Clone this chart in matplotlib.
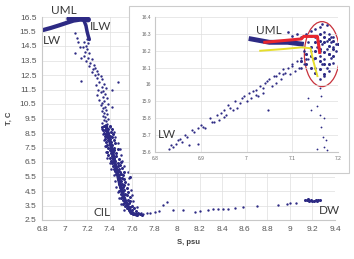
import numpy as np
import matplotlib.pyplot as plt
from matplotlib.patches import Rectangle, Ellipse

plt.rcParams['font.family'] = ['Liberation Sans', 'DejaVu Sans']

# colours
dot = '#2d2a84'
grid_c = '#dedede'
txt_c = '#404040'

# ---- main T-S diagram data ----
x_ticks = [6.8, 7.0, 7.2, 7.4, 7.6, 7.8, 8.0, 8.2, 8.4, 8.6, 8.8, 9.0, 9.2, 9.4]
x_labels = ['6.8', '7', '7.2', '7.4', '7.6', '7.8', '8', '8.2', '8.4', '8.6', '8.8', '9', '9.2', '9.4']
y_ticks = [2.5, 3.5, 4.5, 5.5, 6.5, 7.5, 8.5, 9.5, 10.5, 11.5, 12.5, 13.5, 14.5, 15.5, 16.5]

# LW -> UML streak (dense, drawn as a thick line)
streak_S = [6.81, 6.88, 6.95, 7.02, 7.08, 7.14, 7.19]
streak_T = [15.6, 15.75, 15.92, 16.1, 16.25, 16.32, 16.3]
uml_S = [7.04, 7.10, 7.16, 7.21]
uml_T = [16.38, 16.42, 16.4, 16.32]
ilw_S = [7.17, 7.19, 7.2, 7.21, 7.22]
ilw_T = [16.3, 15.9, 15.5, 15.2, 14.95]

# upper scattered part of the profile
upper_S = [7.09, 7.11, 7.12, 7.14, 7.09, 7.15, 7.20, 7.17, 7.21, 7.19, 7.16, 7.20,
           7.18, 7.22, 7.17, 7.21, 7.24, 7.19, 7.23, 7.26, 7.22, 7.27, 7.25, 7.29,
           7.24, 7.30, 7.27, 7.32, 7.29, 7.33, 7.15, 7.47, 7.31, 7.35, 7.28, 7.33,
           7.37, 7.30, 7.34, 7.42, 7.32, 7.36, 7.29, 7.34, 7.38, 7.31, 7.35, 7.33,
           7.39, 7.32, 7.36, 7.42, 7.34, 7.37, 7.33, 7.35, 7.38, 7.34, 7.36, 7.39,
           7.35, 7.37, 7.33, 7.38, 7.36, 7.40]
upper_T = [15.4, 15.05, 14.8, 14.4, 14.0, 13.7, 15.0, 14.8, 14.7, 14.5, 14.4, 14.3,
           14.1, 14.0, 13.8, 13.7, 13.6, 13.5, 13.3, 13.2, 13.1, 13.0, 12.9, 12.8,
           12.7, 12.6, 12.5, 12.4, 12.3, 12.2, 12.1, 12.0, 12.0, 11.9, 11.8, 11.7,
           11.6, 11.5, 11.4, 11.5, 11.3, 11.2, 11.1, 11.0, 10.9, 10.8, 10.7, 10.6,
           10.5, 10.4, 10.3, 10.3, 10.2, 10.1, 10.0, 9.9, 9.8, 9.7, 9.6, 9.5,
           9.4, 9.3, 9.2, 9.1, 9.0, 8.9]

# dense lower part (CIL)
lower_T = [9.0, 9.0, 8.9, 8.9, 8.8, 8.8, 8.7, 8.7, 8.6, 8.6, 8.5, 8.5, 8.4, 8.4,
           8.3, 8.3, 8.2, 8.2, 8.1, 8.1, 8.0, 8.0, 7.9, 7.9, 7.8, 7.8, 7.7, 7.7,
           7.6, 7.6, 7.5, 7.5, 7.4, 7.4, 7.3, 7.3, 7.2, 7.2, 7.1, 7.1, 7.0, 7.0,
           6.9, 6.9, 6.8, 6.8, 6.7, 6.7, 6.6, 6.6, 6.5, 6.5, 6.4, 6.4, 6.3, 6.3,
           6.2, 6.2, 6.1, 6.1, 6.0, 6.0, 5.9, 5.9, 5.8, 5.8, 5.7, 5.7, 5.6, 5.6,
           5.5, 5.5, 5.4, 5.4, 5.3, 5.3, 5.2, 5.2, 5.1, 5.1, 5.0, 5.0, 4.9, 4.9,
           4.8, 4.8, 4.7, 4.7, 4.6, 4.6, 4.5, 4.5, 4.4, 4.4, 4.3, 4.3, 4.2, 4.2,
           4.1, 4.1, 4.0, 4.0, 3.9, 3.9, 3.8, 3.8, 3.7, 3.7, 3.6, 3.6, 3.5, 3.5,
           3.4, 3.4, 3.3, 3.3, 3.2, 3.2, 3.1, 3.1, 3.0, 3.0, 2.9, 2.9, 2.9, 2.85, 2.85]
lower_S = [7.35, 7.40, 7.37, 7.33, 7.39, 7.42, 7.36, 7.34, 7.38, 7.41, 7.35, 7.39, 7.37, 7.43,
           7.40, 7.36, 7.38, 7.42, 7.36, 7.40, 7.39, 7.44, 7.37, 7.41, 7.40, 7.45, 7.38, 7.42,
           7.41, 7.37, 7.39, 7.44, 7.42, 7.47, 7.40, 7.44, 7.38, 7.43, 7.41, 7.46, 7.43, 7.39,
           7.42, 7.46, 7.40, 7.44, 7.43, 7.48, 7.41, 7.45, 7.44, 7.50, 7.42, 7.47, 7.45, 7.49,
           7.43, 7.47, 7.46, 7.51, 7.44, 7.48, 7.47, 7.45, 7.49, 7.53, 7.46, 7.50, 7.48, 7.52,
           7.47, 7.58, 7.49, 7.51, 7.47, 7.53, 7.50, 7.48, 7.49, 7.54, 7.48, 7.51, 7.50, 7.53,
           7.49, 7.52, 7.51, 7.55, 7.50, 7.53, 7.48, 7.52, 7.51, 7.56, 7.50, 7.54, 7.52, 7.55,
           7.51, 7.58, 7.53, 7.50, 7.52, 7.56, 7.54, 7.58, 7.53, 7.57, 7.55, 7.52, 7.54, 7.60,
           7.56, 7.58, 7.55, 7.62, 7.57, 7.60, 7.58, 7.63, 7.59, 7.65, 7.61, 7.67, 7.63, 7.64, 7.69]
# extra, wider points around the core
wide_T = [8.8, 8.6, 8.4, 8.2, 8.0, 7.8, 7.6, 7.4, 7.2, 7.0, 6.8, 6.6, 6.4, 6.2, 6.0,
          5.8, 5.6, 5.4, 5.2, 5.0, 4.8, 4.6, 4.4, 4.2, 4.0, 3.8, 3.6, 3.4, 3.2, 3.0]
wide_S = [7.33, 7.44, 7.34, 7.45, 7.35, 7.47, 7.36, 7.49, 7.37, 7.50, 7.38, 7.51, 7.40, 7.53, 7.41,
          7.56, 7.44, 7.57, 7.45, 7.56, 7.46, 7.59, 7.47, 7.60, 7.48, 7.61, 7.50, 7.64, 7.53, 7.68]
core_S = [7.37, 7.40, 7.43, 7.46, 7.49, 7.51, 7.53, 7.56, 7.59, 7.64]
core_T = [9.0, 8.0, 7.0, 6.0, 5.0, 4.5, 4.0, 3.5, 3.0, 2.85]

# tail towards deep water
tail_S = [7.70, 7.73, 7.76, 7.80, 7.84, 7.87, 7.91, 7.96, 8.05, 8.16, 8.20, 8.27,
          8.32, 8.36, 8.41, 8.45, 8.51, 8.58, 8.71, 8.89, 8.97, 9.00, 9.05]
tail_T = [2.9, 3.0, 2.95, 3.05, 3.1, 3.53, 3.74, 3.19, 3.19, 3.07, 3.12, 3.19,
          3.24, 3.24, 3.26, 3.28, 3.33, 3.38, 3.47, 3.51, 3.6, 3.65, 3.69]
dw_S = [9.13, 9.15, 9.17, 9.19, 9.21, 9.23, 9.25, 9.27, 9.16, 9.20, 9.24]
dw_T = [3.9, 3.85, 3.8, 3.86, 3.83, 3.88, 3.86, 3.9, 3.92, 3.78, 3.8]

# ---- inset (zoom on UML / LW) ----
in_x_ticks = [6.8, 6.9, 7.0, 7.1, 7.2]
in_x_labels = ['6.8', '6.9', '7', '7.1', '7.2']
in_y_ticks = [15.6, 15.7, 15.8, 15.9, 16.0, 16.1, 16.2, 16.3, 16.4]
in_y_labels = ['15.6', '15.7', '15.8', '15.9', '16', '16.1', '16.2', '16.3', '16.4']

diag_S = [6.83, 6.835, 6.84, 6.85, 6.86, 6.865, 6.875, 6.88, 6.885, 6.894, 6.90, 6.91,
          6.92, 6.93, 6.935, 6.94, 6.95, 6.955, 6.96, 6.97, 6.975, 6.98, 6.99, 7.00,
          7.005, 7.01, 7.02, 7.025, 7.03, 7.035, 7.04, 7.047, 7.05, 7.055, 7.06, 7.065,
          7.07, 7.075, 7.08, 7.09, 7.095, 7.10, 7.105, 7.11, 7.115, 7.12, 7.125, 7.13, 7.135, 7.14]
diag_T = [15.62, 15.64, 15.63, 15.67, 15.66, 15.70, 15.64, 15.73, 15.72, 15.65, 15.76, 15.74,
          15.80, 15.78, 15.82, 15.79, 15.85, 15.82, 15.88, 15.85, 15.90, 15.86, 15.92, 15.90,
          15.95, 15.92, 15.97, 15.93, 15.99, 15.95, 16.01, 15.85, 16.03, 15.99, 16.05, 16.01,
          16.07, 16.03, 16.09, 16.10, 16.06, 16.12, 16.08, 16.14, 16.10, 16.16, 16.12, 16.18, 16.15, 16.20]
diag2_S = [6.845, 6.855, 6.87, 6.895, 6.905, 6.925, 6.945, 6.965, 6.985, 6.995,
           7.015, 7.035, 7.045, 7.065, 7.085, 7.10, 7.12, 6.95, 7.02, 7.08]
diag2_T = [15.65, 15.68, 15.69, 15.74, 15.75, 15.78, 15.83, 15.86, 15.89, 15.93,
           15.96, 15.98, 16.02, 16.05, 16.07, 16.11, 16.14, 15.81, 15.94, 16.06]
in_uml_S = [7.01, 7.05, 7.09, 7.12]
in_uml_T = [16.27, 16.25, 16.25, 16.24]
blob_S = [7.13, 7.14, 7.15, 7.16, 7.17, 7.18, 7.19, 7.185, 7.19, 7.195, 7.18, 7.175,
          7.17, 7.165, 7.175, 7.18, 7.17, 7.16, 7.15, 7.145, 7.16, 7.165, 7.175, 7.185,
          7.19, 7.125, 7.13, 7.12, 7.135, 7.12, 7.11, 7.10, 7.09, 7.195, 7.185, 7.175,
          7.165, 7.15, 7.155, 7.16]
blob_T = [16.30, 16.32, 16.33, 16.34, 16.31, 16.30, 16.28, 16.25, 16.22, 16.20, 16.18, 16.21,
          16.15, 16.12, 16.10, 16.08, 16.05, 16.03, 16.10, 16.15, 16.20, 16.24, 16.26, 16.16,
          16.13, 16.20, 16.15, 16.10, 16.25, 16.28, 16.30, 16.29, 16.31, 16.24, 16.28, 16.35,
          16.36, 16.28, 16.22, 16.17]
blob2_S = [7.14, 7.15, 7.16, 7.17, 7.18, 7.19, 7.20, 7.15, 7.16, 7.17, 7.18, 7.19, 7.14, 7.15, 7.16,
           7.17, 7.18, 7.13, 7.14, 7.15, 7.16, 7.17, 7.12, 7.13, 7.14, 7.15, 7.16, 7.17, 7.18, 7.19]
blob2_T = [16.29, 16.29, 16.30, 16.28, 16.27, 16.26, 16.24, 16.25, 16.26, 16.25, 16.23, 16.21, 16.22, 16.20, 16.21,
           16.19, 16.18, 16.18, 16.17, 16.16, 16.14, 16.12, 16.14, 16.12, 16.10, 16.07, 16.09, 16.06, 16.12, 16.17]
vert_S = [7.16, 7.163, 7.155, 7.16, 7.17, 7.163, 7.167, 7.174, 7.17, 7.155, 7.135, 7.14, 7.175]
vert_T = [15.98, 15.93, 15.87, 15.82, 15.80, 15.75, 15.69, 15.67, 15.63, 15.62, 15.92, 15.85, 15.61]
red_S = [7.04, 7.08, 7.12, 7.125, 7.155, 7.16]
red_T = [16.25, 16.26, 16.27, 16.285, 16.285, 16.19]
yel_S = [7.03, 7.08, 7.12, 7.14, 7.145, 7.155]
yel_T = [16.20, 16.21, 16.22, 16.215, 16.15, 16.05]

fig = plt.figure(figsize=(3.54, 2.59), dpi=100)
ax = fig.add_axes([42/354, 1 - 220/259, 293/354, 203/259])

ax.plot(streak_S, streak_T, color=dot, lw=3, solid_capstyle='round')
ax.plot(uml_S, uml_T, color=dot, lw=4, solid_capstyle='round')
ax.plot(ilw_S, ilw_T, color=dot, lw=2.5, solid_capstyle='round')
ax.plot(core_S, core_T, color=dot, lw=2.5, solid_capstyle='round')
ax.plot(upper_S, upper_T, 'o', color=dot, ms=1.7, mew=0)
ax.plot(lower_S, lower_T, 'o', color=dot, ms=2.2, mew=0)
ax.plot(wide_S, wide_T, 'o', color=dot, ms=1.8, mew=0)
ax.plot(tail_S, tail_T, 'o', color=dot, ms=1.7, mew=0)
ax.plot(dw_S, dw_T, 'o', color=dot, ms=2.2, mew=0)

ax.set_xlim(6.8, 9.4)
ax.set_ylim(2.5, 16.5)
ax.set_xticks(x_ticks)
ax.set_xticklabels(x_labels)
ax.set_yticks(y_ticks)
ax.tick_params(labelsize=6, colors='#555555', length=0, pad=4)
ax.grid(True, color=grid_c, lw=0.5)
for sp in ax.spines.values():
    sp.set_visible(False)
ax.spines['bottom'].set_visible(True)
ax.spines['bottom'].set_color('#c8c8c8')
ax.spines['left'].set_visible(True)
ax.spines['left'].set_color('#c8c8c8')
ax.set_xlabel('S, psu', fontsize=5.5, fontweight='bold', color=txt_c, labelpad=5)
ax.set_ylabel('T, C', fontsize=5.5, fontweight='bold', color=txt_c, labelpad=5)

lab = dict(fontsize=8.5, color='#3a3a3a', family=['Lato', 'DejaVu Sans'], ha='center', va='center')
fig.text(64/354, 1 - 11/259, 'UML', **lab)
fig.text(52/354, 1 - 40/259, 'LW', **lab)
fig.text(101/354, 1 - 26/259, 'ILW', **lab)
fig.text(102/354, 1 - 212/259, 'CIL', **lab)
fig.text(329/354, 1 - 210/259, 'DW', **lab)

# white box behind the inset
fig.patches.append(Rectangle((129/354, 1 - 173/259), 220/354, 167/259, transform=fig.transFigure,
                             facecolor='white', edgecolor='#cccccc', lw=0.8, zorder=1))

ins = fig.add_axes([155/354, 1 - 152/259, 183/354, 135/259], zorder=3)
ins.plot(diag_S, diag_T, 'o', color=dot, ms=1.6, mew=0)
ins.plot(diag2_S, diag2_T, 'o', color=dot, ms=1.6, mew=0)
ins.plot(in_uml_S, in_uml_T, color=dot, lw=3.5)
ins.plot(blob_S, blob_T, 'o', color=dot, ms=1.9, mew=0)
ins.plot(blob2_S, blob2_T, 'o', color=dot, ms=2.2, mew=0)
ins.plot(vert_S, vert_T, 'o', color=dot, ms=1.3, mew=0)
ins.plot(red_S, red_T, color='#e8262e', lw=2.2)
ins.plot(yel_S, yel_T, color='#e6de2c', lw=1.4)
ins.add_patch(Ellipse((7.165, 16.18), 0.077, 0.385, facecolor='none', edgecolor='#c8323c', lw=0.9))

ins.set_xlim(6.8, 7.2)
ins.set_ylim(15.6, 16.4)
ins.set_xticks(in_x_ticks)
ins.set_xticklabels(in_x_labels)
ins.set_yticks(in_y_ticks)
ins.set_yticklabels(in_y_labels)
ins.tick_params(labelsize=3.5, colors='#666666', length=0, pad=3)
ins.grid(True, color=grid_c, lw=0.5)
for sp in ins.spines.values():
    sp.set_visible(False)
ins.spines['bottom'].set_visible(True)
ins.spines['bottom'].set_color('#c8c8c8')
ins.spines['left'].set_visible(True)
ins.spines['left'].set_color('#c8c8c8')

fig.text(269/354, 1 - 31/259, 'UML', **lab)
fig.text(167/354, 1 - 135/259, 'LW', **lab)

plt.savefig('out.png', dpi=100)
